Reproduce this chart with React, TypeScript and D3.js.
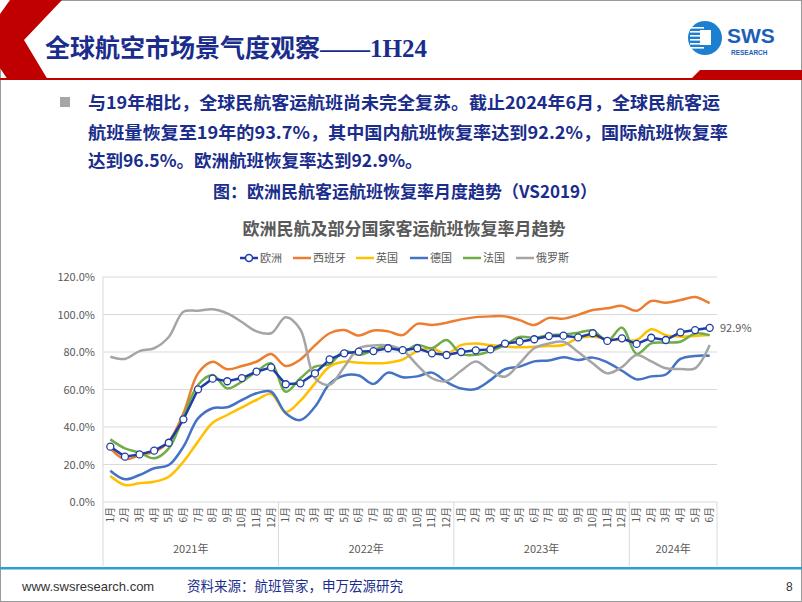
import React from "react";
import * as d3 from "d3";

const monthLabels = ["1月", "2月", "3月", "4月", "5月", "6月", "7月", "8月", "9月", "10月", "11月", "12月"];
const yearLabels = ["2021年", "2022年", "2023年", "2024年"];
const yearMonths = [12, 12, 12, 6];
const yTicks = [0, 20, 40, 60, 80, 100, 120];

// recovery rate vs 2019, %
const europe = [29.5, 24.2, 25.4, 27.4, 31.6, 44.1, 60.1, 65.8, 64.4, 66.1, 69.5, 71.8, 62.8, 63.3, 68.6, 76.1, 79.3, 80.2, 80.5, 82, 81, 82, 79.3, 78.4, 80, 80.9, 81.4, 84.5, 85.5, 86.8, 88.5, 88.7, 87.8, 90, 85.9, 87.3, 84.3, 87.6, 86.4, 90.5, 91.7, 92.9];
const spain = [28.6, 22.8, 25, 26.8, 32.2, 47.3, 68.6, 74.8, 70.8, 72.5, 74.8, 78.9, 72.5, 76, 83.5, 90, 91.7, 88.8, 91.5, 91, 89, 95, 94.4, 95.6, 97.4, 98.6, 99, 99, 97, 94.4, 98.2, 97.8, 99.8, 102.4, 103.3, 104.6, 102, 107.2, 106.3, 107.7, 109.3, 106];
const uk = [13.9, 9.1, 10, 10.8, 13.5, 21.5, 32.2, 42.3, 46.4, 50.5, 54.4, 57.6, 48, 54, 63.3, 72.2, 74.8, 74.3, 74, 74.3, 76, 80.5, 82, 79, 83.7, 84.5, 83.7, 83, 82.5, 82.8, 83.2, 83.7, 87.3, 88.2, 86.8, 86.4, 86.4, 92.1, 89, 88.2, 88.5, 89];
const germany = [16.7, 12.1, 14.4, 18, 19.7, 29.5, 44.6, 50, 50.5, 54.4, 58, 58.8, 47.3, 43.7, 50.8, 63, 67.5, 67.5, 63, 69, 66.5, 67, 69, 64, 60.5, 60.3, 65, 70.8, 72.2, 75, 75.5, 77.2, 75.7, 77, 74.5, 70, 65.4, 67, 68, 76.3, 77.9, 78];
const france = [33.4, 28.6, 26.3, 23.3, 28.6, 45.5, 62.4, 67.7, 60.6, 64.2, 69.5, 74, 58.8, 66, 72.2, 73.5, 80.5, 78.5, 81, 83.5, 80.2, 83.7, 82, 86.4, 79, 78.5, 80.5, 83.7, 88, 87.6, 89, 89.4, 90.3, 91.4, 86, 93, 79, 84.6, 85, 85.5, 89.8, 89];
const russia = [77.5, 76.3, 80.5, 82, 88, 101.5, 102, 102.8, 100.6, 96, 91, 90, 98.5, 92, 66, 62.5, 72, 82, 83.5, 83.5, 81, 73, 66, 64.5, 70, 75, 70, 66.8, 74, 82, 84.5, 85.5, 80, 74, 68.6, 72, 78.4, 75, 71.3, 71, 71.3, 83.7];

const seriesNames = ["欧洲", "西班牙", "英国", "德国", "法国", "俄罗斯"];
const seriesValues = [europe, spain, uk, germany, france, russia];
const seriesColors = ["#1f3da6", "#ed7d31", "#ffc000", "#4472c4", "#70ad47", "#a5a5a5"];

const cjk = "'Noto Sans CJK SC', 'Noto Sans', sans-serif";
const navy = "#1a2d8c";

const categories: string[] = [];
yearLabels.forEach((yr, k) => {
  for (let m = 0; m < yearMonths[k]; m++) categories.push(`${yr}-${monthLabels[m]}`);
});

const left = 103;
const right = 717;
const top = 277;
const bottom = 502;

const x = d3.scaleBand<string>().domain(categories).range([left, right]).padding(0);
const y = d3.scaleLinear().domain([0, 120]).range([bottom, top]);
const cx = (i: number) => (x(categories[i]) as number) + x.bandwidth() / 2;

const smooth = d3
  .line<number>()
  .x((_, i) => cx(i))
  .y((d) => y(d))
  .curve(d3.curveCatmullRom.alpha(0.5));

const straight = d3
  .line<number>()
  .x((_, i) => cx(i))
  .y((d) => y(d));

// year group boundaries
const yearStarts: number[] = [];
let acc = 0;
yearMonths.forEach((n) => {
  yearStarts.push(acc);
  acc += n;
});

const legendX = [240, 293, 356, 410, 463, 516];

export default function App() {
  return (
    <svg
      width={802}
      height={602}
      style={{ position: "fixed", left: 0, top: 0, background: "#fff" }}
    >
      {/* slide frame */}
      <rect x={0.5} y={0.5} width={801} height={601} fill="#fff" stroke="#9a9a9a" />

      {/* header */}
      <polygon points="0,0 62,0 24,40 48,80 8,80 0,68" fill="#c00000" />
      <polygon points="0,0 10,0 0,14" fill="#fff" />
      <rect x={0} y={78} width={802} height={2} fill="#c00000" />
      <polygon points="700,70 802,70 802,80 690,80" fill="#c00000" />
      <text
        x={45}
        y={57}
        fontFamily="'Liberation Serif', 'Noto Sans CJK SC', serif"
        fontWeight="bold"
        fontSize={25}
        fill={navy}
      >
        全球航空市场景气度观察——1H24
      </text>

      {/* logo */}
      <g>
        <circle cx={705} cy={38} r={17} fill="#1c7fd0" />
        {[0, 1, 2, 3, 4, 5].map((k) => (
          <rect key={k} x={690} y={27 + k * 4} width={14} height={1.6} fill="#fff" />
        ))}
        <rect x={700} y={30} width={11} height={15} fill="#fff" />
        <text x={727} y={43} fontFamily="'Liberation Sans', Arial, sans-serif" fontWeight="bold" fontSize={21} fill="#1d5fb8">
          SWS
        </text>
        <text x={731} y={55} fontFamily="'Liberation Sans', Arial, sans-serif" fontWeight="bold" fontSize={6.5} fill="#1d5fb8">
          RESEARCH
        </text>
      </g>

      {/* bullet text */}
      <rect x={60} y={97} width={10} height={10} fill="#a6a6a6" />
      <g fontFamily={cjk} fontWeight="bold" fontSize={17.5} fill={navy}>
        <text x={88} y={109} textLength={632} lengthAdjust="spacingAndGlyphs">
          与19年相比，全球民航客运航班尚未完全复苏。截止2024年6月，全球民航客运
        </text>
        <text x={88} y={139} textLength={640} lengthAdjust="spacingAndGlyphs">
          航班量恢复至19年的93.7%，其中国内航班恢复率达到92.2%，国际航班恢复率
        </text>
        <text x={88} y={167}>达到96.5%。欧洲航班恢复率达到92.9%。</text>
        <text x={405} y={198} textAnchor="middle" fontSize={17}>
          图：欧洲民航客运航班恢复率月度趋势（VS2019）
        </text>
      </g>

      {/* chart title */}
      <text x={404} y={235} textAnchor="middle" fontFamily={cjk} fontWeight="bold" fontSize={17} fill="#595959">
        欧洲民航及部分国家客运航班恢复率月趋势
      </text>

      {/* legend */}
      <g fontFamily={cjk} fontSize={11} fill="#595959">
        {seriesNames.map((name, k) => (
          <g key={name} transform={`translate(${legendX[k]},258)`}>
            <line x1={0} x2={18} y1={0} y2={0} stroke={seriesColors[k]} strokeWidth={2.5} />
            {k === 0 && <circle cx={9} cy={0} r={3.5} fill="#fff" stroke={seriesColors[0]} strokeWidth={1.5} />}
            <text x={20} y={4}>
              {name}
            </text>
          </g>
        ))}
      </g>

      {/* grid and y axis */}
      <g fontFamily={cjk} fontSize={11} fill="#595959">
        {yTicks.map((t) => (
          <g key={t}>
            <line x1={left} x2={right} y1={y(t)} y2={y(t)} stroke="#d9d9d9" strokeWidth={1} />
            <text x={95} y={y(t) + 4} textAnchor="end">
              {t.toFixed(1)}%
            </text>
          </g>
        ))}
      </g>
      <line x1={left} x2={left} y1={top} y2={bottom} stroke="#d9d9d9" />

      {/* category axis */}
      <g fontFamily={cjk} fontSize={10} fill="#595959">
        {categories.map((c, i) => (
          <text
            key={c}
            transform={`translate(${cx(i) + 3.5},507) rotate(-90)`}
            textAnchor="end"
          >
            {c.split("-")[1]}
          </text>
        ))}
        {yearStarts.map((s, k) => {
          const x0 = x(categories[s]) as number;
          const x1 = x0 + x.bandwidth() * yearMonths[k];
          return (
            <g key={yearLabels[k]}>
              <text x={(x0 + x1) / 2} y={553} textAnchor="middle" fontSize={11}>
                {yearLabels[k]}
              </text>
            </g>
          );
        })}
        {[...yearStarts, categories.length].map((s) => {
          const xx = s < categories.length ? (x(categories[s]) as number) : right;
          return <line key={s} x1={xx} x2={xx} y1={bottom} y2={566} stroke="#d9d9d9" />;
        })}
      </g>

      {/* series */}
      {seriesValues.map((vals, k) =>
        k === 0 ? null : (
          <path key={seriesNames[k]} d={smooth(vals) ?? ""} fill="none" stroke={seriesColors[k]} strokeWidth={2.5} />
        )
      )}
      <path d={straight(europe) ?? ""} fill="none" stroke={seriesColors[0]} strokeWidth={2.5} />
      {europe.map((v, i) => (
        <circle key={i} cx={cx(i)} cy={y(v)} r={3.5} fill="#fff" stroke={seriesColors[0]} strokeWidth={1.3} />
      ))}
      <text x={720} y={y(europe[europe.length - 1]) + 4} fontFamily={cjk} fontSize={11} fill="#595959">
        {europe[europe.length - 1].toFixed(1)}%
      </text>

      {/* footer */}
      <rect x={0} y={567} width={802} height={2.5} fill="#2a9fd0" />
      <text x={22} y={591} fontFamily="'Liberation Sans', Arial, sans-serif" fontSize={13} fill="#333">
        www.swsresearch.com
      </text>
      <text x={187} y={591} fontFamily={cjk} fontSize={13.5} fill={navy}>
        资料来源：航班管家，申万宏源研究
      </text>
      <text x={786} y={591} fontFamily="'Liberation Sans', Arial, sans-serif" fontSize={12} fill="#333">
        8
      </text>
    </svg>
  );
}
